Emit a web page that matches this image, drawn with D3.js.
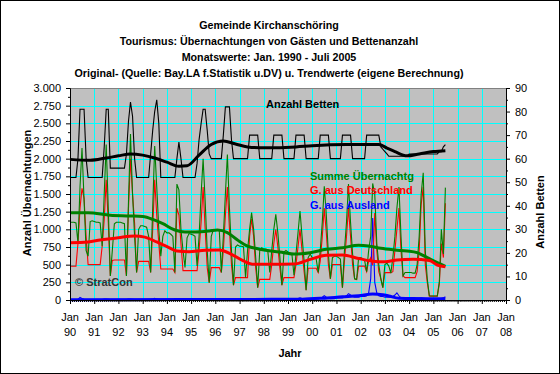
<!DOCTYPE html>
<html>
<head>
<meta charset="utf-8">
<script src="https://cdn.jsdelivr.net/npm/d3@7"></script>
<style>
  body { margin: 0; background: #fff; }
  svg { display: block; font-family: "Liberation Sans", Arial, sans-serif; }
</style>
</head>
<body>
<svg width="560" height="374"></svg>
<script>
// monthly values, Jan 1990 .. Jul 2005
var betten = [
  52,52,52,52,60,81,81,81,60,52,52,52,
  52,52,52,52,52,65,81,81,56,56,56,56,
  56,56,56,56,62,76,84,78,60,52,52,52,
  52,52,52,52,62,72,80,85,75,52,52,52,
  52,52,52,52,52,60,67,60,52,52,52,52,
  52,52,52,58,68,75,81,81,72,62,60,60,
  60,60,60,60,70,82,82,82,68,60,60,60,
  60,60,60,60,60,70,70,70,70,70,60,60,
  60,60,60,60,60,70,70,70,70,70,60,60,
  60,60,60,60,70,70,70,70,70,60,60,60,
  60,60,60,60,70,70,70,70,70,60,60,60,
  60,60,60,70,70,70,70,70,60,60,60,60,
  60,60,60,70,70,70,70,70,70,70,65,64,
  63,62,61,61,61,61,61,61,61,61,61,61,
  62,62,62,62,62,62,62,62,62,62,62,62,
  62,62,62,63,63,65,66
];
var summe = [
  1100,1100,1100,1090,810,1600,2150,1420,700,620,1110,1120,
  1110,1100,1100,1090,760,1500,2200,1300,340,700,1080,1100,
  1100,1100,1090,1080,340,1400,2350,1500,900,390,1000,1050,
  1050,1040,1030,900,390,1300,2180,1600,1000,620,900,980,
  950,950,930,900,390,1640,1560,1000,700,460,880,940,
  930,920,900,480,900,1500,2000,1400,700,245,900,990,
  990,990,980,390,900,1500,2060,1300,700,210,750,780,
  760,760,750,320,700,1000,1236,1000,600,175,700,740,
  720,720,710,390,700,1000,1212,950,600,210,680,700,
  680,660,650,350,650,950,1260,900,550,140,600,650,
  600,600,580,390,700,1100,1610,1200,650,300,600,620,
  620,600,580,175,700,1100,1640,1100,650,300,290,600,
  600,580,560,400,700,900,1650,1500,800,500,300,175,
  500,520,480,380,600,900,1300,1600,900,340,390,390,
  390,390,380,380,500,900,1500,1800,700,300,60,57,
  57,57,57,260,1000,650,1590
];
var deutschland = [
  480,480,480,480,800,1300,1580,1440,900,500,500,500,
  500,500,500,500,760,1140,1700,1100,340,560,566,566,
  566,566,566,566,340,1300,2000,1500,1085,390,546,546,
  546,546,546,546,390,1000,1700,1200,800,439,439,439,
  439,439,439,439,390,1300,1200,800,415,415,415,415,
  415,415,415,415,700,1100,1600,1000,458,245,458,458,
  458,458,458,390,700,1200,1600,1000,500,210,316,316,
  316,316,316,316,316,900,1150,900,450,175,292,292,
  292,292,292,292,500,800,1000,750,450,210,316,316,
  316,316,316,316,500,750,1000,700,400,140,450,450,
  450,450,450,390,550,900,1300,950,500,300,500,500,
  500,500,500,175,550,900,1300,900,500,300,290,480,
  480,480,480,400,550,600,490,1230,700,400,300,175,
  387,387,387,387,400,700,1000,1300,700,340,316,316,
  316,316,316,316,400,700,1350,1600,500,250,55,55,
  55,55,55,230,800,600,1370
];
var ausland = [
  5,5,5,5,10,35,20,10,5,5,5,5,
  5,5,5,5,8,12,15,10,5,5,5,5,
  5,5,5,5,8,12,15,10,5,5,5,5,
  5,5,5,5,8,15,25,12,5,5,5,5,
  5,5,5,5,8,12,15,10,5,5,5,5,
  5,5,5,5,8,12,15,10,5,5,5,5,
  5,5,5,5,8,12,15,10,5,5,5,5,
  5,5,5,5,8,12,15,10,5,5,5,5,
  5,5,5,5,8,12,15,10,8,8,8,8,
  10,10,10,10,15,20,30,20,15,10,10,10,
  15,15,15,15,25,40,60,40,25,20,20,20,
  30,30,30,30,40,60,90,70,50,40,40,40,
  50,50,50,60,100,300,1160,250,100,60,50,50,
  40,40,40,40,50,70,100,60,30,20,15,15,
  15,15,15,15,20,25,30,25,20,15,10,10,
  10,10,10,15,20,30,45
];

// trend values: [month index, value]
var bettenTrend = [[0,59.7],[10,59.3],[18,60.3],[24,61.2],[30,62],[36,61.5],[42,60.3],[48,58.5],
  [54,56.8],[58,57],[64,61.5],[70,66],[76,67.5],[82,66.2],[88,65],[97,64.6],[112,65],[120,65.5],
  [137,66],[153,66],[157,64.5],[161,63],[167,61.2],[173,62],[180,63],[186,63.4]];
var summeTrend = [[0,1236],[9,1236],[20,1200],[30,1190],[36,1180],[41,1141],[46,1080],[52,990],
  [57,962],[62,962],[69,976],[73,990],[78,953],[83,849],[88,764],[93,726],[100,693],[106,670],
  [111,650],[119,670],[127,717],[135,740],[143,774],[148,764],[154,731],[161,708],[167,693],
  [172,670],[177,599],[182,528],[186,475]];
var deutschlandTrend = [[0,811],[9,821],[15,849],[24,882],[32,906],[37,890],[43,821],[49,741],
  [53,693],[59,684],[67,705],[74,708],[80,646],[86,552],[91,505],[100,505],[111,510],[119,575],
  [127,632],[135,637],[143,588],[150,550],[156,542],[162,565],[170,576],[178,560],[182,495],[186,471]];
var auslandTrend = [[0,5],[60,8],[100,9],[115,12],[125,25],[135,45],[143,60],[150,85],[155,75],
  [158,57],[163,25],[170,20],[186,19]];

var yearLabels = ['90','91','92','93','94','95','96','97','98','99','00','01','02','03','04','05','06','07','08'];
var leftTicks = [0,250,500,750,1000,1250,1500,1750,2000,2250,2500,2750,3000];
var rightTicks = [0,10,20,30,40,50,60,70,80,90];
var titleLines = ['Gemeinde Kirchanschöring',
  'Tourismus: Übernachtungen von Gästen und Bettenanzahl',
  'Monatswerte: Jan. 1990 - Juli 2005',
  'Original- (Quelle: Bay.LA f.Statistik u.DV) u. Trendwerte (eigene Berechnung)'];

var svg = d3.select('svg');
var plot = {l: 70, r: 506, t: 88, b: 300};

var de = d3.formatLocale({decimal: ',', thousands: '.', grouping: [3], currency: ['', '€']});
var fmt = de.format(',');

function monthDate(m) { return new Date(1990, m, 1); }

var x = d3.scaleTime()
  .domain([new Date(1990, 0, 1), new Date(2008, 0, 1)])
  .range([plot.l, plot.r]);
var yL = d3.scaleLinear().domain([0, 3000]).range([plot.b, plot.t]);
var yR = d3.scaleLinear().domain([0, 90]).range([plot.b, plot.t]);

// outer frame
svg.append('rect')
  .attr('x', 0.5).attr('y', 0.5).attr('width', 559).attr('height', 373)
  .style('fill', '#fff').style('stroke', '#000');

// titles
svg.selectAll('.title')
  .data(titleLines)
  .enter()
  .append('text')
  .attr('class', 'title')
  .attr('x', 269)
  .attr('y', (d, i) => 29 + i * 16)
  .attr('text-anchor', 'middle')
  .style('font-size', '10.7px')
  .style('font-weight', 'bold')
  .text(d => d);

// plot background
svg.append('rect')
  .attr('x', plot.l).attr('y', plot.t)
  .attr('width', plot.r - plot.l).attr('height', plot.b - plot.t)
  .style('fill', '#c0c0c0');

// grid
var years = d3.range(1991, 2008).map(y => new Date(y, 0, 1));
svg.append('g')
  .selectAll('line')
  .data(years)
  .enter()
  .append('line')
  .attr('x1', d => Math.round(x(d)) + 0.5).attr('x2', d => Math.round(x(d)) + 0.5)
  .attr('y1', plot.t).attr('y2', plot.b)
  .style('stroke', '#00ffff');
svg.append('g')
  .selectAll('line')
  .data(leftTicks.slice(1, -1))
  .enter()
  .append('line')
  .attr('x1', plot.l).attr('x2', plot.r)
  .attr('y1', d => Math.round(yL(d)) + 0.5).attr('y2', d => Math.round(yL(d)) + 0.5)
  .style('stroke', '#00ffff');

svg.append('rect')
  .attr('x', plot.l + 0.5).attr('y', plot.t + 0.5)
  .attr('width', plot.r - plot.l).attr('height', plot.b - plot.t)
  .style('fill', 'none').style('stroke', '#808080');

// thin monthly lines
var lineL = d3.line().x((d, i) => x(monthDate(i))).y(d => yL(d));
var lineR = d3.line().x((d, i) => x(monthDate(i))).y(d => yR(d));

var thin = [
  {data: ausland, color: '#0000ff', line: lineL},
  {data: deutschland, color: '#ff0000', line: lineL},
  {data: summe, color: '#008000', line: lineL},
  {data: betten, color: '#000000', line: lineR}
];
svg.selectAll('.thin')
  .data(thin)
  .enter()
  .append('path')
  .attr('class', 'thin')
  .attr('d', d => d.line(d.data))
  .style('fill', 'none')
  .style('stroke', d => d.color)
  .style('stroke-width', 1.1);

// trend lines
var trendL = d3.line().curve(d3.curveMonotoneX).x(d => x(monthDate(d[0]))).y(d => yL(d[1]));
var trendR = d3.line().curve(d3.curveMonotoneX).x(d => x(monthDate(d[0]))).y(d => yR(d[1]));
var trends = [
  {data: summeTrend, color: '#008000', line: trendL},
  {data: deutschlandTrend, color: '#ff0000', line: trendL},
  {data: auslandTrend, color: '#0000ff', line: trendL},
  {data: bettenTrend, color: '#000000', line: trendR}
];
svg.selectAll('.trend')
  .data(trends)
  .enter()
  .append('path')
  .attr('class', 'trend')
  .attr('d', d => d.line(d.data))
  .style('fill', 'none')
  .style('stroke', d => d.color)
  .style('stroke-width', 3);

// axes
var leftAxis = d3.axisLeft(yL).tickValues(leftTicks).tickFormat(fmt).tickSize(4).tickPadding(5);
var gL = svg.append('g').attr('transform', 'translate(' + plot.l + ',0)').call(leftAxis);
var gLm = svg.append('g').attr('transform', 'translate(' + plot.l + ',0)')
  .call(d3.axisLeft(yL).tickValues(d3.range(125, 3000, 250)).tickFormat('').tickSize(2));

var rightAxis = d3.axisRight(yR).tickValues(rightTicks).tickSize(4).tickPadding(5);
var gR = svg.append('g').attr('transform', 'translate(' + plot.r + ',0)').call(rightAxis);
var gRm = svg.append('g').attr('transform', 'translate(' + plot.r + ',0)')
  .call(d3.axisRight(yR).tickValues(d3.range(5, 90, 10)).tickFormat('').tickSize(2));

var months = d3.range(0, 217).map(monthDate);
var gXm = svg.append('g').attr('transform', 'translate(0,' + plot.b + ')')
  .call(d3.axisBottom(x).tickValues(months).tickFormat('').tickSize(2));
var xAxis = d3.axisBottom(x).tickValues(d3.range(1990, 2009).map(y => new Date(y, 0, 1)))
  .tickFormat('').tickSize(4);
var gX = svg.append('g').attr('transform', 'translate(0,' + plot.b + ')').call(xAxis);

[gL, gLm, gR, gRm, gX, gXm].forEach(function(g) {
  g.select('.domain').style('stroke', '#000');
  g.selectAll('line').style('stroke', '#000');
  g.selectAll('text')
    .style('font-size', '11px')
    .style('font-family', '"Liberation Sans", Arial, sans-serif')
    .style('fill', '#000');
});
gXm.select('.domain').remove();
gLm.select('.domain').remove();
gRm.select('.domain').remove();

// two-line year labels
var yl = svg.append('g').selectAll('text')
  .data(yearLabels)
  .enter()
  .append('text')
  .attr('text-anchor', 'middle')
  .style('font-size', '11px');
yl.append('tspan')
  .attr('x', (d, i) => x(new Date(1990 + i, 0, 1)))
  .attr('y', 321)
  .text('Jan');
yl.append('tspan')
  .attr('x', (d, i) => x(new Date(1990 + i, 0, 1)))
  .attr('y', 336)
  .text(d => d);

// axis titles
svg.append('text')
  .attr('x', 290).attr('y', 357)
  .attr('text-anchor', 'middle')
  .style('font-size', '11px').style('font-weight', 'bold')
  .text('Jahr');
svg.append('text')
  .attr('transform', 'translate(31,193) rotate(-90)')
  .attr('text-anchor', 'middle')
  .style('font-size', '11px').style('font-weight', 'bold')
  .text('Anzahl Übernachtungen');
svg.append('text')
  .attr('transform', 'translate(544,212) rotate(-90)')
  .attr('text-anchor', 'middle')
  .style('font-size', '11px').style('font-weight', 'bold')
  .text('Anzahl Betten');

// labels inside the plot
var notes = [
  {t: 'Anzahl Betten', x: 266, y: 108, c: '#000000'},
  {t: 'Summe Übernachtg', x: 310, y: 180, c: '#008000'},
  {t: 'G. aus Deutschland', x: 310, y: 194, c: '#ff0000'},
  {t: 'G. aus Ausland', x: 310, y: 209, c: '#0000ff'},
  {t: '© StratCon', x: 75, y: 286, c: '#333333'}
];
svg.selectAll('.note')
  .data(notes)
  .enter()
  .append('text')
  .attr('class', 'note')
  .attr('x', d => d.x).attr('y', d => d.y)
  .style('font-size', '11px').style('font-weight', 'bold')
  .style('fill', d => d.c)
  .text(d => d.t);
</script>
</body>
</html>
